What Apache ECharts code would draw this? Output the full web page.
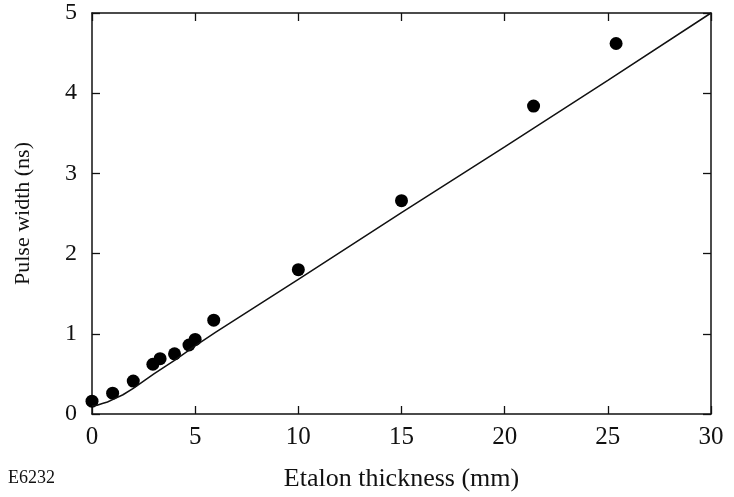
<!DOCTYPE html>
<html>
<head>
<meta charset="utf-8">
<script src="https://cdn.jsdelivr.net/npm/echarts@6/dist/echarts.min.js"></script>
<style>
    html, body { margin: 0; padding: 0; background: #fff; }
    #chart { width: 734px; height: 497px; }
</style>
</head>
<body>
<div id="chart"></div>
<script>
// measured points (etalon thickness mm, pulse width ns)
var measured = [
    [0, 0.16], [1, 0.26], [2, 0.41], [2.95, 0.62], [3.3, 0.69],
    [4, 0.75], [4.7, 0.86], [5, 0.93], [5.9, 1.17], [10, 1.8],
    [15, 2.66], [21.4, 3.84], [25.4, 4.62]
]
// calculated curve
var model = [
    [0, 0.10], [0.25, 0.11], [0.5, 0.13], [0.75, 0.15], [1, 0.18], [1.5, 0.24],
    [2, 0.32], [2.5, 0.41], [3, 0.50], [3.5, 0.585], [4, 0.67], [5, 0.85],
    [6, 1.02], [10, 1.68], [15, 2.51], [20, 3.33], [25, 4.16], [30, 5.0]
]
var xTicks = [0, 30, 5]   // min, max, interval
var yTicks = [0, 5, 1]

var font = 'Liberation Serif'
var axisLine = { onZero: false, lineStyle: { color: '#111', width: 1.5 } }
var tick = { inside: true, length: 8, lineStyle: { color: '#111', width: 1.3 } }

var chart = echarts.init(document.getElementById('chart'))
var option = {
    animation: false,
    grid: { left: 92, right: 23, top: 13, bottom: 83 },
    xAxis: [
        {
            type: 'value', min: xTicks[0], max: xTicks[1], interval: xTicks[2],
            name: 'Etalon thickness (mm)', nameLocation: 'middle', nameGap: 52,
            nameTextStyle: { fontFamily: font, fontSize: 26, color: '#111' },
            axisLine: axisLine, axisTick: tick, splitLine: { show: false },
            axisLabel: { fontFamily: font, fontSize: 25, color: '#111', margin: 11 }
        },
        {
            type: 'value', position: 'top', min: xTicks[0], max: xTicks[1], interval: xTicks[2],
            axisLine: axisLine, axisTick: tick, splitLine: { show: false },
            axisLabel: { show: false }
        }
    ],
    yAxis: [
        {
            type: 'value', min: yTicks[0], max: yTicks[1], interval: yTicks[2],
            name: 'Pulse width (ns)', nameLocation: 'middle', nameGap: 58,
            nameTextStyle: { fontFamily: font, fontSize: 22, color: '#111' },
            axisLine: axisLine, axisTick: tick, splitLine: { show: false },
            axisLabel: { fontFamily: font, fontSize: 24, color: '#111', margin: 15 }
        },
        {
            type: 'value', position: 'right', min: yTicks[0], max: yTicks[1], interval: yTicks[2],
            axisLine: axisLine, axisTick: tick, splitLine: { show: false },
            axisLabel: { show: false }
        }
    ],
    graphic: [
        {
            type: 'text', left: 8, top: 469,
            style: { text: 'E6232', fontFamily: font, fontSize: 18, fill: '#111' }
        }
    ],
    series: [
        {
            type: 'line', data: model, showSymbol: false, smooth: false,
            lineStyle: { color: '#111', width: 1.5 }
        },
        {
            type: 'scatter', data: measured, symbolSize: 13,
            itemStyle: { color: '#000', opacity: 1 }
        }
    ]
}
chart.setOption(option)
</script>
</body>
</html>
